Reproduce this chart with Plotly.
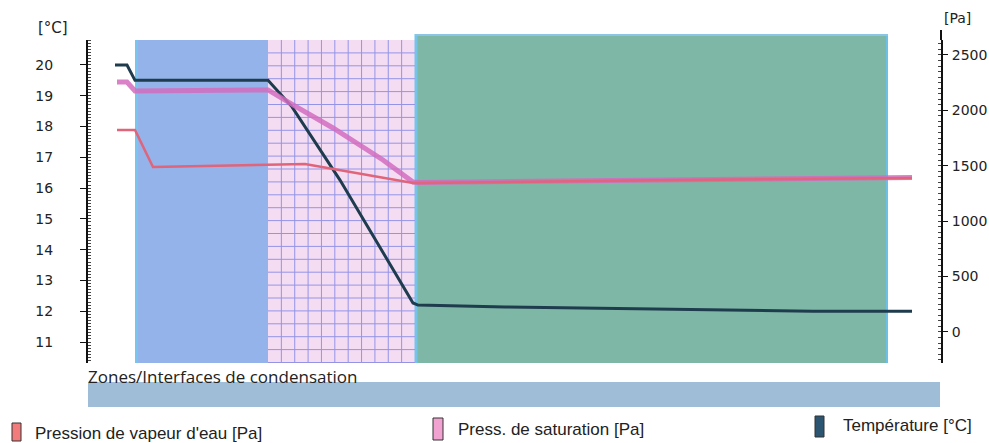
import plotly.graph_objects as go
import numpy as np

# ---------------- data (position along the wall, cm) ----------------
temp_x = [-2.0, -0.8, 0.0, 13.3, 15.7, 20.5, 27.8, 28.3, 37.0, 44.7, 52.2, 60.2, 67.8, 77.7]
temp_y = [20.0, 20.0, 19.5, 19.5, 18.64, 16.26, 12.27, 12.2, 12.14, 12.1, 12.07, 12.04, 12.0, 12.0]

vap_x = [-1.8, 0.0, 1.8, 17.0, 27.8, 28.5, 52.5, 77.7]
vap_y = [1823, 1823, 1489, 1515, 1345, 1345, 1370, 1390]

sat_x = [-1.8, -0.8, 0.0, 13.3, 15.8, 19.8, 24.8, 27.8, 28.5, 52.5, 77.7]
sat_y = [2256, 2256, 2175, 2184, 2049, 1841, 1552, 1354, 1350, 1374, 1394]

zones = [(0.0, 13.3), (13.3, 28.0), (28.0, 75.3)]
temp_ticks = list(range(11, 21))
pa_ticks = [0, 500, 1000, 1500, 2000, 2500]

legend_labels = ["Pression de vapeur d'eau [Pa]", "Press. de saturation [Pa]", "Température [°C]"]

# ---------------- geometry helpers ----------------
W, H = 989, 443
L, R, T, B = 88, 941, 40, 363
XR = [-4.7, 80.6]

def px(xp):
    return (xp - L) / (R - L)

def py(yp):
    return (B - yp) / (B - T)

fig = go.Figure()

fig.add_trace(go.Scatter(x=sat_x, y=sat_y, yaxis="y2", mode="lines",
                         line=dict(color="rgba(210,108,190,0.85)", width=5), showlegend=False))
fig.add_trace(go.Scatter(x=vap_x, y=vap_y, yaxis="y2", mode="lines",
                         line=dict(color="#e0647a", width=2.5), showlegend=False))
fig.add_trace(go.Scatter(x=temp_x, y=temp_y, mode="lines",
                         line=dict(color="#1f3c4e", width=3), showlegend=False))

shapes = []
# zones
zcol = ["#93b3ea", "#f4dcf3", "#7fb7a6"]
for i, (a, b) in enumerate(zones):
    top = 1.0 if i < 2 else py(34)
    shapes.append(dict(type="rect", xref="x", yref="paper", x0=a, x1=b, y0=0, y1=top,
                       fillcolor=zcol[i], line=dict(width=0), layer="below"))
# zone edges
shapes.append(dict(type="line", xref="x", yref="paper", x0=0.15, x1=0.15, y0=0, y1=1,
                   line=dict(color="#78c6f0", width=3), layer="below"))
shapes.append(dict(type="line", xref="x", yref="paper", x0=28.1, x1=28.1, y0=0, y1=py(34),
                   line=dict(color="#74c4ea", width=3), layer="below"))
shapes.append(dict(type="line", xref="x", yref="paper", x0=75.2, x1=75.2, y0=0, y1=py(34),
                   line=dict(color="#6cc0e8", width=2), layer="below"))
shapes.append(dict(type="line", xref="x", yref="paper", x0=28.0, x1=75.3, y0=py(35), y1=py(35),
                   line=dict(color="#8cc4e6", width=2), layer="below"))
# grid in pink zone
a, b = zones[1]
for xv in np.linspace(a, b, 12)[1:-1]:
    shapes.append(dict(type="line", xref="x", yref="paper", x0=xv, x1=xv, y0=0, y1=1,
                       line=dict(color="#9494e6", width=1), layer="below"))
for yv in np.arange(T + 12.9, B, 12.9):
    shapes.append(dict(type="line", xref="x", yref="paper", x0=a, x1=b, y0=py(yv), y1=py(yv),
                       line=dict(color="#9494e6", width=1), layer="below"))
# extra right axis top extension
shapes.append(dict(type="line", xref="paper", yref="paper", x0=1, x1=1, y0=1, y1=py(30),
                   line=dict(color="#111", width=2)))
# condensation bar
shapes.append(dict(type="rect", xref="paper", yref="paper", x0=px(88), x1=px(940),
                   y0=py(407), y1=py(382), fillcolor="#9fbdd6", line=dict(width=0)))
# legend boxes
boxes = [((12, 21), (423, 441), "#f27c7c"),
         ((433, 443), (418, 440), "#f2a2d0"),
         ((815, 824), (416, 437), "#2b5570")]
for (x0, x1), (y0, y1), c in boxes:
    shapes.append(dict(type="rect", xref="paper", yref="paper", x0=px(x0), x1=px(x1),
                       y0=py(y1), y1=py(y0), fillcolor=c, line=dict(color="#333", width=1)))

annotations = [
    dict(text="[°C]", x=px(53), y=py(28), xref="paper", yref="paper", showarrow=False,
         font=dict(family="DejaVu Sans", size=15, color="#222"), xanchor="center", yanchor="middle"),
    dict(text="[Pa]", x=px(957), y=py(18), xref="paper", yref="paper", showarrow=False,
         font=dict(family="DejaVu Sans", size=14, color="#222"), xanchor="center", yanchor="middle"),
    dict(text="Zones/Interfaces de condensation", x=px(86), y=py(376), xref="paper", yref="paper",
         showarrow=False, font=dict(family="Open Sans", size=17, color="#222"),
         xanchor="left", yanchor="middle"),
]
leg_pos = [(33, 433), (456, 429), (841, 425)]
for (xp, yp), lab in zip(leg_pos, legend_labels):
    annotations.append(dict(text=lab, x=px(xp), y=py(yp), xref="paper", yref="paper",
                            showarrow=False, font=dict(family="Liberation Sans", size=17, color="#222"),
                            xanchor="left", yanchor="middle"))

fig.update_layout(
    width=W, height=H,
    margin=dict(l=L, r=W - R, t=T, b=H - B, pad=0, autoexpand=False),
    paper_bgcolor="white", plot_bgcolor="white",
    xaxis=dict(range=XR, visible=False, showgrid=False, zeroline=False, automargin=False),
    yaxis=dict(range=[10.32, 20.81], tickvals=temp_ticks, showgrid=False, zeroline=False,
               automargin=False,
               showline=True, linecolor="#111", linewidth=2, ticks="outside", ticklen=6,
               tickcolor="#111", tickwidth=1, ticklabelstandoff=24,
               minor=dict(dtick=0.1, ticks="inside", ticklen=3, tickcolor="#444", showgrid=False),
               tickfont=dict(family="DejaVu Sans", size=14, color="#222")),
    yaxis2=dict(range=[-280, 2635], tickvals=pa_ticks, overlaying="y", side="right",
                automargin=False,
                showgrid=False, zeroline=False, showline=True, linecolor="#111", linewidth=2,
                ticks="outside", ticklen=5, tickcolor="#111", ticklabelstandoff=1,
                minor=dict(dtick=50, ticks="inside", ticklen=3, tickcolor="#444", showgrid=False),
                tickfont=dict(family="DejaVu Sans", size=14, color="#222")),
    shapes=shapes, annotations=annotations,
)

fig.write_html("out.html", config={"displayModeBar": False},
               post_script="document.body.style.margin='0';document.body.style.overflow='hidden';")
